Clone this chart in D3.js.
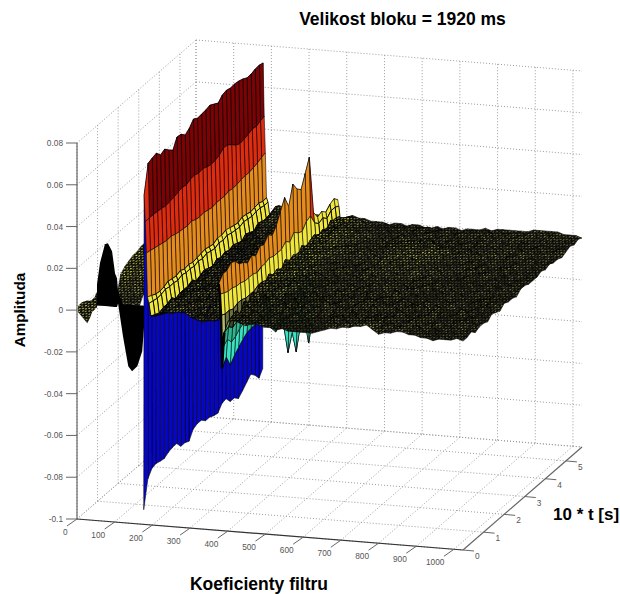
<!DOCTYPE html>
<html>
<head>
<meta charset="utf-8">
<script src="https://cdn.jsdelivr.net/npm/d3@7"></script>
<style>
    html, body {margin: 0; background: #fff;}
    text {font-family: "Liberation Sans", Arial, sans-serif;}
</style>
</head>
<body>
<svg id="chart" width="620" height="594"></svg>
<script>
// amplitudes are in thousandths
const times = [0, .2, .4, .6, .8, 1, 1.2, 1.4, 1.6, 1.8, 2, 2.2, 2.4, 2.6, 2.8, 3, 3.2, 3.4, 3.6, 3.8, 4, 4.2, 4.4, 4.6, 4.8, 5, 5.2, 5.4, 5.6, 5.78];
const coefTicks = [0, 100, 200, 300, 400, 500, 600, 700, 800, 900, 1000];
const timeTicks = [0, 1, 2, 3, 4, 5];
const ampTicks = [-100, -80, -60, -40, -20, 0, 20, 40, 60, 80];
const ampLabels = ["-0.1", "-0.08", "-0.06", "-0.04", "-0.02", "0", "0.02", "0.04", "0.06", "0.08"];

// first wall, one list per filter coefficient
const wall1Coefs = [177, 178, 181, 184, 187, 191, 196];
const wall1Trough = [-93, -80, -76.6, -76, -76.6, -77, -75.7, -75, -75, -78, -78, -79, -75, -74, -74, -76, -76, -77, -77.5, -74.5, -74, -77, -77, -79, -77, -74.7, -72.5, -74.7, -77.8, -74.7];
const wall1Peak = [57.6, 71.2, 72, 72.6, 70, 71.1, 69, 67.2, 71.8, 71.4, 69.3, 70.9, 73.6, 72.3, 72.6, 72.8, 73.4, 72.2, 71, 73.1, 73.7, 73.1, 73.3, 73, 72.3, 71.1, 71.2, 71.9, 72.1, 71.6];
const wall1Red = [45, 45, 45, 44.7, 44.5, 44, 44.4, 44.8, 45.5, 46, 45.5, 46.5, 46.8, 46, 46.5, 45.5, 45, 45.3, 46, 47.8, 47.5, 46, 44, 43, 43.5, 44, 45, 44.5, 45.5, 46];
const wall1Orange = [30, 29.5, 29, 28.5, 28, 27.5, 27.8, 27, 26.5, 26.3, 26, 26.5, 25.5, 25.2, 25.5, 25, 24.5, 25, 24.9, 24.9, 25.5, 25, 25.3, 25.8, 26, 26, 26.5, 27, 28, 28.6];
const wall1Yellow = [9, 8, 7, 6.6, 7, 8, 7.5, 7.2, 8, 7, 7.5, 6.8, 7.2, 7.6, 8, 7.4, 7, 8.2, 7.8, 8.6, 8, 7.4, 7, 8, 7.6, 7, 7.4, 7.8, 7, 7.2];
const wall1Mid = [6, 5.5, 5, 5.2, 6, 5.4, 5.6, 5, 6, 5.3, 5.5, 5, 5.8, 5.2, 6, 5.4, 5, 6, 5.5, 6.2, 5.5, 5.2, 5, 5.8, 5.4, 5, 5.5, 5.6, 5, 5.2];
const wall1Foot = [0, -1, -2, -1, -1, 0, -2, -1, -1, -1, 0, -2, -1, 0, -1, -2, 0, -1, 0, -1, 0, -1, -2, 0, -1, -2, 0, -1, -1, -2];

// second wall
const wall2Coefs = [376, 379, 382, 385, 388, 391];
const wall2Peak = [18, 21, 21, 23, 22, 19, 18, 16, 18, 16, 19, 18, 21, 19, 22, 27, 32, 26, 35, 31, 29, 35, 41, 13, 9, 10, 8, 10, 11, 9];
const wall2Yellow = [13, 12, 11, 11, 10, 10, 9, 9, 9, 8, 9, 9, 10, 9, 9, 9, 11, 9, 12, 10, 9, 12, 13, 8, 6, 7, 5, 7, 7, 6];
const wall2Mid = [3, 2, 2, 1, 2, 2, 1, 1, 1, 2, 2, 1, 0, 1, 1, 0, 1, 0, 1, 1, 0, 1, 1, 2, 1, 1, 1, 2, 2, 1];
const wall2Trough = [-22, -18.5, -24, -21, -19, -17, -15.5, -15, -15, -15.4, -16, -19, -23.5, -27, -25, -28, -42, -34, -45, -34, -32, -46, -36, -10, -7, -5, -4, -4, -3, -3];
const wall2Rise = [-12, -10, -13, -12, -10, -9, -9, -8, -8, -9, -9, -10, -13, -15, -14, -16, -23, -19, -25, -19, -18, -25, -20, -6, -4, -3, -2, -2, -2, -2];
const wall2Lip = [-5, -4, -6, -5, -5, -4, -4, -3, -3, -4, -4, -5, -6, -7, -6, -7, -11, -9, -12, -9, -8, -12, -9, -2, -1, -1, -1, -1, -1, 0];

// noisy sheet between the walls, rows follow times
const sheetACoefs = [205, 221, 237, 253, 269, 285, 301, 317, 333, 349, 365];
const sheetA = [
    [0, 1, 2, 2, 3, 3, 1, 0, -1, 0, 0],
    [-1, 0, 2, 4, 1, 3, -1, 1, 0, 2, -1],
    [-2, 2, -1, 2, 3, 0, 2, -2, 3, 1, 2],
    [0, 4, 1, -1, 2, 4, 0, 1, 2, -1, 3],
    [-1, 1, 3, 0, -2, 1, 3, 2, -1, 4, 1],
    [0, -1, 2, 5, 1, -1, 2, 0, 3, 1, 2],
    [-2, 3, 0, 2, 4, 1, -2, 3, 1, 0, 4],
    [0, 0, 2, -1, 1, 3, 1, 0, 4, 2, -1],
    [-1, 4, -1, 1, 3, 0, 2, 5, -1, 1, 3],
    [0, 1, 3, 0, -1, 2, 4, 1, 2, -1, 1],
    [-2, -2, 2, 3, 1, 0, 1, -1, 3, 5, 2],
    [0, 2, -1, 0, 4, 2, -1, 2, 0, 1, 4],
    [1, 0, 1, -2, 1, 3, 2, 0, -1, 3, 1],
    [-1, 3, -1, 1, 0, -2, 1, 4, 2, 0, 3],
    [0, -1, 1, 2, -2, 0, 3, 1, -1, 2, 5],
    [-1, 2, -2, 0, 1, -1, 2, 0, 3, 1, 2],
    [0, -1, 0, -3, 1, 2, -1, 1, 0, 4, 1],
    [1, 0, -2, 1, -1, 0, 2, -2, 1, 2, 3],
    [-1, -2, 1, -1, 0, -3, 1, 0, 2, -1, 4],
    [0, 0, -1, -3, 1, -1, -2, 1, 0, 3, 2],
    [-2, -2, 0, 1, -2, 0, 1, -1, 2, 1, 5],
    [0, 1, -3, 0, -1, 2, -2, 0, 1, 3, 2],
    [-1, -1, 1, -2, 0, -1, 1, 2, -1, 0, 3],
    [0, 0, -2, 1, -3, 1, 0, -1, 3, 1, 2],
    [-1, 2, -1, 0, 1, -2, 2, 0, -1, 2, 1],
    [0, 0, 1, -2, 0, 1, -1, 3, 1, 0, 4],
    [1, 2, 0, 1, -1, 2, 0, 1, 2, -1, 1],
    [0, 3, 4, 1, 2, 0, 3, -1, 1, 2, 0],
    [1, 5, 2, 3, 0, 2, 1, 2, 0, 1, 2],
    [1, 4, 3, 2, 3, 1, 2, 1, 1, 0, 1]
];

// noisy sheet right of the second wall
const sheetBCoefs = [400, 416, 432, 448, 464, 480, 496, 512, 528, 544, 560, 576, 592, 608, 624, 640, 656, 672, 688, 704, 720, 736, 752, 768, 784, 800, 816, 832, 848, 864, 880, 896, 912, 928, 944, 960, 976, 992, 1008, 1024];
const sheetB = [
    [0, 1, 0, -1, 0, 0, -1, -1, -2, -1, -2, -2, -2, -2, -2, -1, 0, 1, 1, 2, 2, 3, 3, 4, 2, 0, 1, 1, 2, 2, 1, 1, 0, 0, -1, 0, 0, 0, 1, 0],
    [1, -1, 2, 0, -1, 1, 0, -2, -1, 0, 1, -1, -2, 0, -1, 1, 0, 2, 1, 3, 1, 3, 4, 2, 1, 2, 0, 2, 3, 1, 0, 2, 1, -1, 0, 1, -1, 1, 0, 0],
    [2, 0, -1, 3, 1, -2, 1, -1, 0, 2, -1, 0, 1, -2, 1, 0, 3, -1, 2, 0, 4, 1, 2, 3, -1, 1, 2, 0, 1, -1, 2, 0, -2, 1, 0, -1, 0, 2, -1, 1],
    [-1, 3, 1, 0, -2, 2, 0, 1, -2, 1, 0, 2, -1, 1, 0, -2, 1, 2, -1, 3, 0, 2, -1, 1, 3, 0, -2, 1, 2, 0, -1, 1, 2, -2, 1, 0, 2, -1, 0, -1],
    [3, 0, 2, -1, 1, 0, -2, 2, 1, -1, 3, 0, -2, 2, -1, 1, 0, -1, 3, 1, -1, 0, 2, -2, 1, 2, 0, -1, 1, 3, 0, -2, 0, 1, -1, 2, 0, -2, 1, 0],
    [1, 2, -1, 4, 0, 1, 2, -1, 0, 1, -2, 1, 2, 0, -2, 3, 1, 0, -1, 2, 1, -2, 0, 1, -1, 3, 1, 0, -2, 1, 2, -1, 1, 0, -2, 0, 1, 2, -1, 0],
    [4, -1, 3, 1, 2, -1, 0, 3, -2, 1, 0, -1, 3, 1, 2, -1, 0, 2, 1, -2, 3, 0, 1, -1, 2, 0, -2, 1, 0, -1, 3, 1, -1, 0, 2, -2, 1, 0, 1, -1],
    [2, 3, 0, 2, -1, 3, 1, -2, 2, 0, 1, 3, -1, 0, 1, 2, -2, 1, 3, 0, -1, 2, 1, 0, -2, 1, 3, -1, 2, 0, -2, 0, 1, -1, 2, 1, -2, 0, -1, 1],
    [5, 1, 2, 4, 0, 1, -1, 2, 0, 3, -1, 1, 0, -2, 3, 1, 0, -1, 2, 1, 3, -1, 0, 2, 1, -1, 0, 2, -2, 1, 0, 2, -1, 1, -2, 0, 1, -1, 2, 0],
    [3, 4, 1, 2, 3, -1, 2, 0, 1, -1, 2, 0, 3, 1, -1, 0, 2, 3, -1, 0, 1, 2, -2, 1, 0, 3, -1, 1, 0, -2, 2, 1, 0, -2, 1, -1, 0, 2, 0, -1],
    [6, 2, 3, 0, 4, 1, 0, 3, -1, 2, 1, -2, 0, 2, 1, 3, -1, 1, 0, 2, -1, 3, 1, -1, 2, 0, 1, -2, 1, 2, -1, 0, 1, -1, 0, 2, -2, 1, 0, 1],
    [4, 5, 2, 3, 1, 2, 3, -1, 0, 1, 3, 0, -1, 2, 0, 1, 3, 0, 2, -1, 1, 0, 2, 3, -1, 1, -2, 0, 2, 1, -1, 2, 0, 1, -2, 0, 1, -1, 1, 0],
    [5, 3, 6, 1, 3, 2, 0, 1, 3, -1, 0, 2, 1, -1, 3, 0, 2, 1, 3, 0, -1, 2, 0, 1, 2, -2, 1, 0, -1, 2, 0, -1, 1, 2, 0, -2, 0, 1, -1, 0],
    [3, 6, 3, 4, 0, 2, 3, 1, -1, 2, 1, 0, 3, 2, 0, 4, 1, 3, 0, 2, 1, -1, 3, 0, 1, 2, -1, 1, 0, -2, 1, 2, -1, 0, 1, -1, 2, 0, 1, -1],
    [6, 4, 5, 2, 4, 1, 0, 2, 3, 0, 2, 1, -1, 3, 2, 1, 3, 0, 4, 1, 2, 0, 1, 3, -1, 1, 0, 2, -1, 0, 2, -1, 1, 0, -2, 1, 0, 2, 0, 1],
    [4, 5, 3, 6, 2, 3, 1, 0, 2, 3, -1, 1, 2, 3, 1, 4, 2, 3, 1, 2, 4, 1, 0, 2, 1, 0, 2, -1, 1, 3, 0, 1, -1, 2, 0, -1, 1, 0, -1, 1],
    [5, 3, 6, 4, 3, 1, 2, 3, 0, 1, 2, 3, 0, 2, 4, 2, 5, 3, 4, 2, 3, 1, 2, 0, 3, 1, -1, 2, 0, 1, -1, 2, 0, 1, -1, 2, -2, 1, 0, 0],
    [3, 6, 4, 5, 2, 3, 0, 1, 3, 2, 0, 2, 3, 1, 5, 3, 4, 5, 3, 6, 2, 3, 1, 2, 0, 2, 1, 0, 3, -1, 1, 2, 0, -1, 1, 0, 2, -1, 1, 0],
    [6, 4, 5, 3, 4, 2, 3, 1, 0, 3, 1, 2, 4, 3, 4, 6, 3, 5, 4, 3, 5, 2, 3, 1, 2, 1, 3, 0, 1, 2, -1, 0, 1, 3, -1, 1, 0, 2, -1, 0],
    [4, 5, 7, 4, 3, 5, 1, 2, 3, 0, 2, 3, 1, 4, 5, 3, 6, 4, 5, 5, 3, 4, 1, 3, 0, 2, 1, 3, -1, 1, 2, 0, -1, 1, 2, 0, 1, -1, 0, 1],
    [5, 7, 4, 6, 2, 3, 4, 0, 2, 1, 3, 0, 3, 5, 3, 6, 4, 5, 3, 6, 4, 2, 3, 1, 2, 3, 0, 1, 2, 0, 3, 1, 0, -1, 2, 1, -1, 0, 1, 0],
    [6, 4, 6, 5, 3, 1, 2, 3, 1, 2, 0, 2, 4, 3, 6, 4, 5, 3, 5, 4, 3, 5, 1, 2, 3, 1, 2, 4, 0, 2, 1, 0, 3, 1, 0, 2, -1, 1, 0, 1],
    [4, 7, 5, 3, 5, 2, 0, 2, 3, 1, 2, 1, 3, 1, 4, 5, 3, 6, 3, 5, 2, 3, 2, 0, 1, 3, 1, 0, 2, 3, 1, -1, 1, 2, 0, 1, 0, 2, -1, 0],
    [5, 3, 6, 4, 2, 3, 1, 3, 0, 2, 3, 0, 1, 2, 0, 3, 1, 2, 4, 2, 1, 2, 0, 3, 1, 0, 2, 1, 3, 0, 2, 1, 0, 3, 1, -1, 2, 0, 1, 0],
    [3, 5, 4, 6, 1, 4, 2, 0, 1, 2, -1, 1, 3, 0, 1, 2, 0, 3, 1, 0, 2, -1, 1, 2, 0, 3, 1, 2, 0, 1, 3, -1, 1, 0, 2, 3, 0, 1, 2, -1],
    [6, 3, 5, 2, 3, 1, 3, 0, 2, -1, 1, 0, 2, -1, 2, 0, 1, -1, 2, 0, 1, 3, 0, 1, -1, 2, 0, 3, 1, 2, 0, 1, 3, 0, 1, 2, 1, -1, 1, 0],
    [4, 6, 3, 4, 1, 2, 0, 2, -1, 1, 2, 0, -1, 1, 0, 2, -1, 0, 1, -1, 2, 0, 1, -1, 2, 0, 3, 1, 0, 2, 3, 1, 0, 2, 3, 0, 2, 1, 0, 1],
    [3, 4, 5, 2, 3, 0, 1, -1, 0, 2, -1, 1, 0, 2, -1, 0, 1, 2, -1, 0, 1, -1, 2, 0, 1, 3, 0, 2, 3, 1, 2, 3, 0, 2, 1, 3, 1, 0, 1, 0],
    [2, 3, 1, 2, 0, 1, -1, 1, 0, -1, 0, 1, -1, 0, 1, -1, 0, 1, 0, -1, 0, 1, 0, 1, 1, 0, 2, 1, 1, 2, 1, 2, 2, 1, 2, 2, 1, 1, 0, 1],
    [1, 2, 1, 1, 0, 0, 0, -1, 0, 0, -1, 0, 0, -1, -1, 0, -1, 0, 0, -1, 0, 0, 0, 1, 0, 1, 1, 1, 1, 1, 1, 2, 2, 2, 2, 2, 1, 1, 1, 0]
];

// hill behind the black hump, only its front rows show
const hillCoefs = [105, 120, 135, 150, 165];
const hillTimes = [0, .2, .4, .6, .8, 1, 1.2, 1.4];
const hill = [
    [8, 5, 4, 5, 4],
    [17, 9, 11, 6, 8],
    [19, 13, 16, 10, 7],
    [20, 15, 18, 12, 13],
    [21, 17, 14, 19, 11],
    [21, 19, 16, 13, 17],
    [22, 16, 20, 14, 15],
    [22, 19, 15, 18, 13]
];

// transient at the start of the blocks, drawn as a filled profile
const bumpCoefs = [3, 8, 13, 20, 27, 34, 40, 47, 53];
const bumpTop = [2, 3, 4, 4.5, 5, 5, 5.5, 7, 9.5];
const bumpBottom = [-1, -2, -3, -4.5, -5.9, -3.5, -.5, 1, 2];
const humpCoefs = [53, 61, 74, 82, 93, 101, 106, 109, 122, 136, 146, 160, 173, 178];
const humpTop = [13, 23.4, 32.6, 33.2, 29.5, 19, 16.8, 10.6, 4.7, 4.7, 4.7, 4.7, 4.7, 4.7];
const humpBottom = [3, 3, 3, 3, 3, 3, 3, 4.7, -10.7, -24.9, -27.1, -24.6, -17.2, -5];

const ampBreaks = [-50, -16, -9, -4, 0, 3, 5, 15, 40, 60];
const ampColors = ["#0606c4", "#3ae2c4", "#2fb592", "#6aae62", "#46462a", "#6e7040", "#b4b868", "#efe63e", "#e58c1c", "#dd2c0e", "#7a0404"];
const meshBreaks = [0, 2, 4, 6];
const meshColors = ["#4e4e32", "#7c7c50", "#9c9d60", "#c2c466", "#e0e656"];
// stipple spots inside one pattern tile
const stippleX = [.4, 3.6, 1.9, 5];
const stippleY = [.5, .9, 3.1, 3.5];

const width = 620, height = 594;
const svg = d3.select("#chart");

const cMax = 1024, tMax = 5.78;
const cx = d3.scaleLinear().domain([0, cMax]).range([77, 463]);
const cy = d3.scaleLinear().domain([0, cMax]).range([0, 31]);
const tx = d3.scaleLinear().domain([0, tMax]).range([0, 119]);
const ty = d3.scaleLinear().domain([0, tMax]).range([0, -103]);
const zy = d3.scaleLinear().domain([-100, 80]).range([519, 143]);
const color = d3.scaleThreshold().domain(ampBreaks).range(ampColors);
const meshTone = d3.scaleThreshold().domain(meshBreaks).range(meshColors.map((c, i) => i));

const project = (c, t, z) => [cx(c) + tx(t), zy(z) + cy(c) + ty(t)];
const line = d3.line();

// the real mesh is far finer than the grid kept here, so the sheet gets a fine stipple
const defs = svg.append("defs");
meshColors.forEach((c, i) => {
    const p = defs.append("pattern").attr("id", "mesh" + i)
        .attr("patternUnits", "userSpaceOnUse")
        .attr("width", 6.3).attr("height", 5.3)
        .attr("patternTransform", "skewX(-28)");
    p.append("rect").attr("width", 6.3).attr("height", 5.3).attr("fill", "#0b0b06");
    stippleX.forEach((x, k) => {
        p.append("rect").attr("x", x).attr("y", stippleY[k]).attr("width", 1.7).attr("height", 1.1).attr("fill", c);
    });
});

// box grid
const gridLines = [];
coefTicks.forEach(c => {
    gridLines.push([[c, 0, -100], [c, tMax, -100]]);
    gridLines.push([[c, tMax, -100], [c, tMax, 80]]);
});
timeTicks.concat([tMax]).forEach(t => {
    gridLines.push([[0, t, -100], [cMax, t, -100]]);
    gridLines.push([[0, t, -100], [0, t, 80]]);
});
ampTicks.forEach(z => {
    gridLines.push([[0, 0, z], [0, tMax, z]]);
    gridLines.push([[0, tMax, z], [cMax, tMax, z]]);
});
svg.append("g").selectAll("path").data(gridLines).join("path")
    .attr("d", d => line(d.map(p => project(...p))))
    .attr("fill", "none")
    .attr("stroke", "#9c9c9c")
    .attr("stroke-width", 1)
    .attr("stroke-dasharray", "1 2");

// axes
const axes = [
    [[0, 0, -100], [0, 0, 80]],
    [[0, 0, -100], [cMax, 0, -100]],
    [[cMax, 0, -100], [cMax, tMax, -100]]
];
svg.append("g").selectAll("path").data(axes).join("path")
    .attr("d", d => line(d.map(p => project(...p))))
    .attr("fill", "none")
    .attr("stroke", (d, i) => i === 1 ? "#333" : "#666")
    .attr("stroke-width", 1.2);

const tickStroke = "#666", labelColor = "#555";
const ticks = svg.append("g").attr("font-size", 8.3).attr("fill", labelColor);
ampTicks.forEach((z, i) => {
    const [x, y] = project(0, 0, z);
    ticks.append("line").attr("x1", x).attr("y1", y).attr("x2", x - 11).attr("y2", y).attr("stroke", tickStroke);
    ticks.append("text").attr("x", x - 14).attr("y", y + 3).attr("text-anchor", "end").text(ampLabels[i]);
});
coefTicks.forEach(c => {
    const [x, y] = project(c, 0, -100);
    ticks.append("line").attr("x1", x).attr("y1", y).attr("x2", x - 10).attr("y2", y + 7).attr("stroke", tickStroke);
    ticks.append("text").attr("x", x - 9.5).attr("y", y + 16).attr("text-anchor", "end").text(c);
});
timeTicks.forEach(t => {
    const [x, y] = project(cMax, t, -100);
    ticks.append("line").attr("x1", x).attr("y1", y).attr("x2", x + 11).attr("y2", y + 1).attr("stroke", tickStroke);
    ticks.append("text").attr("x", x + 12).attr("y", y + 9).text(t);
});

// surface faces, back to front
function buildFaces(coefs, ts, rows) {
    const faces = [];
    for (let j = 0; j < coefs.length - 1; j++) {
        for (let i = ts.length - 2; i >= 0; i--) {
            faces.push({
                c: coefs[j],
                z: rows[i][j],
                points: [
                    project(coefs[j], ts[i], rows[i][j]),
                    project(coefs[j + 1], ts[i], rows[i][j + 1]),
                    project(coefs[j + 1], ts[i + 1], rows[i + 1][j + 1]),
                    project(coefs[j], ts[i + 1], rows[i + 1][j])
                ]
            });
        }
    }
    return faces;
}

const surface = svg.append("g").attr("stroke-linejoin", "round");

const hillFaces = buildFaces(hillCoefs, hillTimes, hill);
surface.append("g").selectAll("path").data(hillFaces).join("path")
    .attr("d", d => line(d.points) + "Z")
    .attr("fill", d => `url(#mesh${meshTone(d.z * .4)})`)
    .attr("stroke", "#000")
    .attr("stroke-width", .4);

// start transient
const profile = d3.area()
    .x(d => project(d[0], 0, 0)[0])
    .y0(d => project(d[0], 0, d[2])[1])
    .y1(d => project(d[0], 0, d[1])[1]);
surface.append("path")
    .attr("d", profile(d3.zip(bumpCoefs, bumpTop, bumpBottom)))
    .attr("fill", "url(#mesh3)");
surface.append("path")
    .attr("d", profile(d3.zip(humpCoefs, humpTop, humpBottom)))
    .attr("fill", "#000");

// main surface, walls and sheet share one grid
const surfaceCoefs = wall1Coefs.concat(sheetACoefs, wall2Coefs, sheetBCoefs);
const surfaceRows = times.map((t, i) => [
    wall1Trough[i], wall1Peak[i], wall1Red[i], wall1Orange[i], wall1Yellow[i], wall1Mid[i], wall1Foot[i],
    ...sheetA[i],
    wall2Peak[i], wall2Yellow[i], wall2Mid[i], wall2Trough[i], wall2Rise[i], wall2Lip[i],
    ...sheetB[i]
]);
const isSheet = d => d.c >= 196 && !(d.c >= 376 && d.c <= 391);
const meshFaces = buildFaces(surfaceCoefs, times, surfaceRows);
surface.append("g").selectAll("path").data(meshFaces).join("path")
    .attr("d", d => line(d.points) + "Z")
    .attr("fill", d => isSheet(d) ? `url(#mesh${meshTone(d.z)})` : color(d.z))
    .attr("stroke", "#000")
    .attr("stroke-width", d => isSheet(d) ? .5 : Math.abs(d.z) > 8 ? .55 : .9);

// the front edge of the second wall reads as a dark strip
surface.append("path")
    .attr("d", line(wall2Coefs.map((c, j) => project(c, 0, surfaceRows[0][18 + j]))))
    .attr("fill", "none")
    .attr("stroke", "#000")
    .attr("stroke-width", 2.5);

// titles
const titles = svg.append("g").attr("font-weight", "bold").attr("fill", "#000");
titles.append("text").attr("x", 402.5).attr("y", 25).attr("text-anchor", "middle").attr("font-size", 17.5)
    .text("Velikost bloku = 1920 ms");
titles.append("text").attr("x", 259).attr("y", 590).attr("text-anchor", "middle").attr("font-size", 17.5)
    .text("Koeficienty filtru");
titles.append("text").attr("x", 553).attr("y", 520).attr("font-size", 17).text("10 * t [s]");
titles.append("text").attr("transform", "translate(25,310) rotate(-90)").attr("text-anchor", "middle").attr("font-size", 15.2)
    .text("Amplituda");
</script>
</body>
</html>
